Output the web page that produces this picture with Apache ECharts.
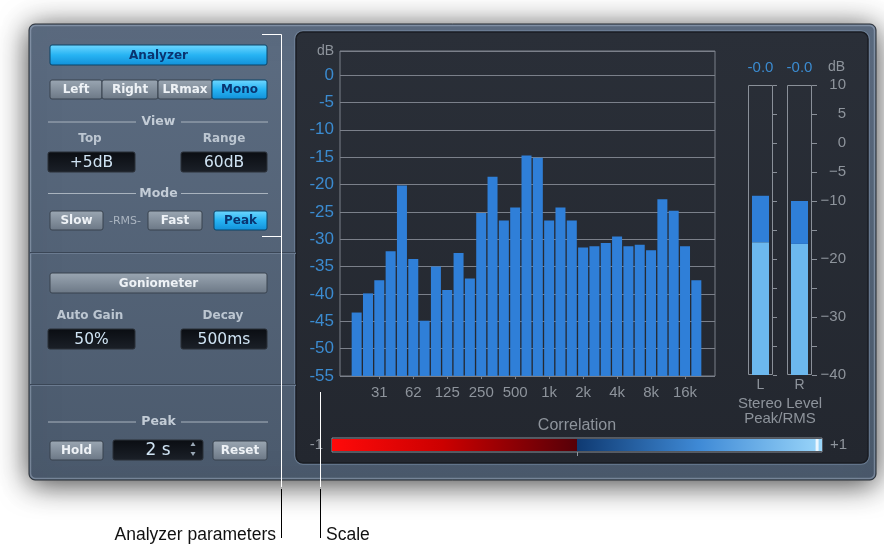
<!DOCTYPE html>
<html>
<head>
<meta charset="utf-8">
<title>MultiMeter</title>
<script src="https://cdn.jsdelivr.net/npm/echarts@6/dist/echarts.min.js"></script>
<style>
  html, body { margin: 0; padding: 0; background: #ffffff; }
  #chart { width: 884px; height: 546px; }
</style>
</head>
<body>
<div id="chart"></div>
<script>
// third-octave analyzer bands, every third one gets a label
const bands = ['20', '25', '31', '40', '50', '62', '80', '100', '125', '160', '200', '250', '315', '400', '500',
  '630', '800', '1k', '1.25k', '1.6k', '2k', '2.5k', '3.15k', '4k', '5k', '6.3k', '8k', '10k', '12.5k', '16k', '20k'];
// analyzer level per band (dB)
const levels = [-43.4, -39.9, -37.5, -32.2, -20.2, -33.6, -44.9, -35.0, -39.3, -32.5, -37.2, -25.2, -18.6, -26.6, -24.2,
  -14.7, -15.1, -26.6, -24.2, -26.6, -31.5, -31.3, -30.7, -29.5, -31.3, -31.0, -32.0, -22.7, -24.8, -31.3, -37.5];
// analyzer scale (bars grow up from the floor)
const specFloor = -55;
const specTop = 4.4;

// stereo level meter
const channels = ['L', 'R'];
const peakLevel = [-9.1, -10.0];
const rmsLevel = [-17.1, -17.4];
const peakHold = ['-0.0', '-0.0'];
const meterFloor = -40;
const meterTop = 10;
const meterLabels = [10, 5, 0, -5, -10, -20, -30, -40];

// correlation meter
const corrRange = [-1, 1];
const correlation = 0.98;

const F = '"Liberation Sans", Arial, sans-serif';
const UI = '"DejaVu Sans", Verdana, sans-serif';
const gray = '#8e949c';
const blue = '#3b8bd0';
const barBlue = '#2f7fd8';
const lightBlue = '#6cb8ee';
const gridLine = '#7b808a';
const frameGray = '#8a9099';

const labelled = function (idx) { return idx % 3 === 2; };

// ---- panel decoration (graphic elements) ----
const g = [];
function rect(x, y, w, h, style, r, z) {
  g.push({ type: 'rect', silent: true, z: z === undefined ? -8 : z, shape: { x: x, y: y, width: w, height: h, r: r || 0 }, style: style });
}
function text(x, y, str, font, fill, align, z) {
  g.push({ type: 'text', silent: true, z: z === undefined ? -6 : z,
    style: { x: x, y: y, text: str, font: font, fill: fill, textAlign: align || 'center', textVerticalAlign: 'middle' } });
}
function line(x1, y1, x2, y2, stroke, z) {
  g.push({ type: 'line', silent: true, z: z === undefined ? -7 : z, shape: { x1: x1, y1: y1, x2: x2, y2: y2 }, style: { stroke: stroke, lineWidth: 1 } });
}
function vgrad(a, b) {
  return { type: 'linear', x: 0, y: 0, x2: 0, y2: 1, colorStops: [{ offset: 0, color: a }, { offset: 1, color: b }] };
}
const grayBtn = vgrad('#9ba7b3', '#6b7785');
const cyanBtn = { type: 'linear', x: 0, y: 0, x2: 0, y2: 1, colorStops: [
  { offset: 0, color: '#72d8ff' }, { offset: 0.5, color: '#27b4f3' }, { offset: 1, color: '#118fd8' }] };
const bold = 'bold 12px ' + UI;

function button(x1, y1, x2, y2, label, active, font) {
  rect(x1, y1, x2 - x1, y2 - y1, { fill: active ? cyanBtn : grayBtn, stroke: active ? '#0b4468' : '#39434f', lineWidth: 1 }, 2);
  text((x1 + x2) / 2, (y1 + y2) / 2 + 0.5, label, font || bold, active ? '#0a3470' : '#eef2f6');
}
function valueBox(x1, y1, x2, y2, label, font) {
  rect(x1, y1, x2 - x1, y2 - y1, { fill: vgrad('#0a0d12', '#1b2028'), stroke: '#2b3038', lineWidth: 1 }, 2);
  text((x1 + x2) / 2, (y1 + y2) / 2 + 0.5, label, font || ('15.5px ' + UI), '#cfe3f3');
}
function section(y, label) {
  line(48, y, 136, y, '#a9b3be');
  line(181, y, 268, y, '#a9b3be');
  text(158.5, y, label, 'bold 12.5px ' + UI, '#c3ccd6');
}

// outer panel with drop shadow
rect(29, 24, 847, 456, { fill: vgrad('#5c6c81', '#4b5a6d'), stroke: '#262c34', lineWidth: 1,
  shadowBlur: 30, shadowColor: 'rgba(0,0,0,0.75)', shadowOffsetY: 4 }, 6, -10);
rect(30.5, 25.5, 844, 453, { fill: 'none', stroke: 'rgba(200,215,235,0.35)', lineWidth: 1.5 }, 5, -10);
// dark display
rect(295, 31, 574, 433, { fill: 'none', stroke: 'rgba(130,150,175,0.6)', lineWidth: 1.5 }, 8, -9);
rect(296, 32, 572, 431, { fill: vgrad('#2a2f38', '#23272f'), stroke: '#1a1d23', lineWidth: 1.5 }, 7, -9);

// left controls
button(50, 45, 267, 65, 'Analyzer', true);
button(50, 80, 102, 99, 'Left', false);
button(102, 80, 158, 99, 'Right', false);
button(158, 80, 212, 99, 'LRmax', false);
button(212, 80, 267, 99, 'Mono', true);
section(122, 'View');
text(90, 139, 'Top', bold, '#bcc6d1');
text(224, 139, 'Range', bold, '#bcc6d1');
valueBox(48, 152, 135, 172, '+5dB');
valueBox(181, 152, 267, 172, '60dB');
section(193.5, 'Mode');
button(50, 211, 103, 230, 'Slow', false);
text(125, 221, '-RMS-', '11px ' + UI, '#aab4c0');
button(148, 211, 202, 230, 'Fast', false);
button(214, 211, 267, 230, 'Peak', true);
line(30, 252.5, 296, 252.5, '#3a4656');
line(30, 253.5, 296, 253.5, '#6b7b90');
button(50, 273, 267, 293, 'Goniometer', false);
text(90, 316, 'Auto Gain', bold, '#bcc6d1');
text(223, 316, 'Decay', bold, '#bcc6d1');
valueBox(48, 329, 135, 349, '50%');
valueBox(181, 329, 267, 349, '500ms');
line(30, 384.5, 296, 384.5, '#3a4656');
line(30, 385.5, 296, 385.5, '#6b7b90');
section(422, 'Peak');
button(50, 441, 103, 460, 'Hold', false);
valueBox(113, 440, 203, 460, '2 s', '17px ' + UI);
g.push({ type: 'polygon', silent: true, z: -5, shape: { points: [[190.5, 446], [195.5, 446], [193, 442]] }, style: { fill: '#9aa8b6' } });
g.push({ type: 'polygon', silent: true, z: -5, shape: { points: [[190.5, 452], [195.5, 452], [193, 456]] }, style: { fill: '#9aa8b6' } });
button(213, 441, 267, 460, 'Reset', false);

// meter captions
text(577, 426, 'Correlation', '16px ' + F, gray);
text(780, 404, 'Stereo Level', '15px ' + F, gray);
text(780, 419, 'Peak/RMS', '15px ' + F, gray);
text(836.5, 67, 'dB', '14px ' + F, gray);

// annotation callouts
line(262, 34.5, 281.5, 34.5, '#ffffff', 50);
line(262, 236.5, 281.5, 236.5, '#ffffff', 50);
line(281.5, 34.5, 281.5, 487, '#ffffff', 50);
line(281.5, 489, 281.5, 538, '#000000', 50);
line(320.5, 392, 320.5, 487, '#ffffff', 50);
line(320.5, 489, 320.5, 538, '#000000', 50);
text(276, 535.5, 'Analyzer parameters', '17.5px ' + F, '#111111', 'right', 50);
text(326, 535.5, 'Scale', '17.5px ' + F, '#111111', 'left', 50);

const redGrad = { type: 'linear', x: 0, y: 0, x2: 1, y2: 0, colorStops: [
  { offset: 0, color: '#ff0a0a' }, { offset: 0.45, color: '#cc0000' }, { offset: 1, color: '#560008' }] };
const blueGrad = { type: 'linear', x: 0, y: 0, x2: 1, y2: 0, colorStops: [
  { offset: 0, color: '#0f3a72' }, { offset: 0.5, color: '#3f8ad6' }, { offset: 1, color: '#9ad6fa' }] };

const chart = echarts.init(document.getElementById('chart'));
chart.setOption({
  animation: false,
  backgroundColor: '#ffffff',
  graphic: { elements: g },
  grid: [
    { left: 340, top: 51, width: 375, height: 325, show: true, borderColor: gridLine, borderWidth: 1, backgroundColor: 'transparent', containLabel: false, outerBoundsMode: 'none' },
    { left: 351, top: 51, width: 351, height: 325, containLabel: false, outerBoundsMode: 'none' },
    { left: 741, top: 85, width: 78, height: 290, containLabel: false, outerBoundsMode: 'none' },
    { left: 332, top: 438, width: 490, height: 14, show: true, borderColor: frameGray, borderWidth: 1, backgroundColor: '#1c2027', containLabel: false, outerBoundsMode: 'none' }
  ],
  xAxis: [
    { gridIndex: 0, type: 'value', min: 0, max: 1, show: false },
    { gridIndex: 1, type: 'category', data: bands,
      axisLine: { show: false },
      axisTick: { show: true, alignWithLabel: true, interval: labelled, length: 3, lineStyle: { color: gridLine } },
      axisLabel: { interval: labelled, color: gray, fontFamily: F, fontSize: 15, margin: 9 } },
    { gridIndex: 2, type: 'category', data: channels,
      axisLine: { show: false }, axisTick: { show: false },
      axisLabel: { color: gray, fontFamily: F, fontSize: 14, margin: 3 } },
    { gridIndex: 2, type: 'category', data: channels, show: false },
    { gridIndex: 3, type: 'value', min: corrRange[0], max: corrRange[1],
      axisLine: { show: false }, splitLine: { show: false }, axisLabel: { show: false },
      axisTick: { show: true, customValues: [0], length: 4, lineStyle: { color: gray } } }
  ],
  yAxis: [
    { gridIndex: 0, type: 'value', min: specFloor, max: specTop, interval: 5,
      axisLine: { show: false }, axisTick: { show: false },
      splitLine: { show: true, lineStyle: { color: gridLine, width: 1 } },
      axisLabel: { margin: 6, showMaxLabel: true, showMinLabel: true,
        formatter: function (v) { return v > 0 ? '{u|dB}' : '{n|' + v + '}'; },
        rich: { n: { color: blue, fontSize: 17, fontFamily: F }, u: { color: gray, fontSize: 14, fontFamily: F } } } },
    { gridIndex: 1, type: 'value', min: 0, max: specTop - specFloor, show: false },
    { gridIndex: 2, type: 'value', min: 0, max: meterTop - meterFloor, interval: 5, position: 'right', offset: -7,
      axisLine: { show: false }, splitLine: { show: false },
      axisTick: { show: true, length: 5, lineStyle: { color: frameGray } },
      axisLabel: { align: 'right', margin: 34, color: gray, fontSize: 15, fontFamily: F, showMinLabel: true, showMaxLabel: true,
        formatter: function (v) {
          const db = v + meterFloor;
          return meterLabels.indexOf(db) >= 0 ? String(db).replace('-', '\u2212') : '';
        } } },
    { gridIndex: 2, type: 'value', min: 0, max: meterTop - meterFloor, interval: 5, position: 'left', offset: -32,
      axisLine: { show: false }, splitLine: { show: false }, axisLabel: { show: false },
      axisTick: { show: true, inside: true, length: 4, lineStyle: { color: frameGray } } },
    { gridIndex: 3, type: 'category', data: ['-1'], axisLine: { show: false }, axisTick: { show: false },
      axisLabel: { color: gray, fontFamily: F, fontSize: 15, margin: 9 } },
    { gridIndex: 3, type: 'category', data: ['+1'], position: 'right', axisLine: { show: false }, axisTick: { show: false },
      axisLabel: { color: gray, fontFamily: F, fontSize: 15, margin: 8 } }
  ],
  series: [
    { name: 'Analyzer', type: 'bar', xAxisIndex: 1, yAxisIndex: 1, silent: true,
      data: levels.map(function (v) { return +(v - specFloor).toFixed(2); }),
      barWidth: 10, itemStyle: { color: barBlue } },
    { name: 'Meter frame', type: 'bar', xAxisIndex: 3, yAxisIndex: 2, silent: true,
      data: channels.map(function () { return meterTop - meterFloor; }),
      barWidth: 25, itemStyle: { color: 'rgba(0,0,0,0)', borderColor: frameGray, borderWidth: 1 },
      label: { show: true, position: 'top', distance: 10, color: blue, fontSize: 15, fontFamily: F,
        formatter: function (p) { return peakHold[p.dataIndex]; } } },
    { name: 'RMS', type: 'bar', stack: 'level', xAxisIndex: 2, yAxisIndex: 2, silent: true,
      data: rmsLevel.map(function (v) { return +(v - meterFloor).toFixed(2); }),
      barWidth: 17, itemStyle: { color: lightBlue } },
    { name: 'Peak', type: 'bar', stack: 'level', xAxisIndex: 2, yAxisIndex: 2, silent: true,
      data: peakLevel.map(function (v, i) { return +(v - rmsLevel[i]).toFixed(2); }),
      barWidth: 17, itemStyle: { color: barBlue } },
    { name: 'Correlation -', type: 'bar', stack: 'corr', xAxisIndex: 4, yAxisIndex: 4, silent: true,
      data: [corrRange[0]], barWidth: 12, itemStyle: { color: redGrad } },
    { name: 'Correlation +', type: 'bar', stack: 'corr', xAxisIndex: 4, yAxisIndex: 4, silent: true,
      data: [corrRange[1]], barWidth: 12, itemStyle: { color: blueGrad } },
    { name: 'Correlation', type: 'scatter', xAxisIndex: 4, yAxisIndex: 4, silent: true, z: 5,
      data: [[correlation, 0]], symbol: 'rect', symbolSize: [3, 12], itemStyle: { color: '#ffffff' } }
  ]
});
</script>
</body>
</html>
